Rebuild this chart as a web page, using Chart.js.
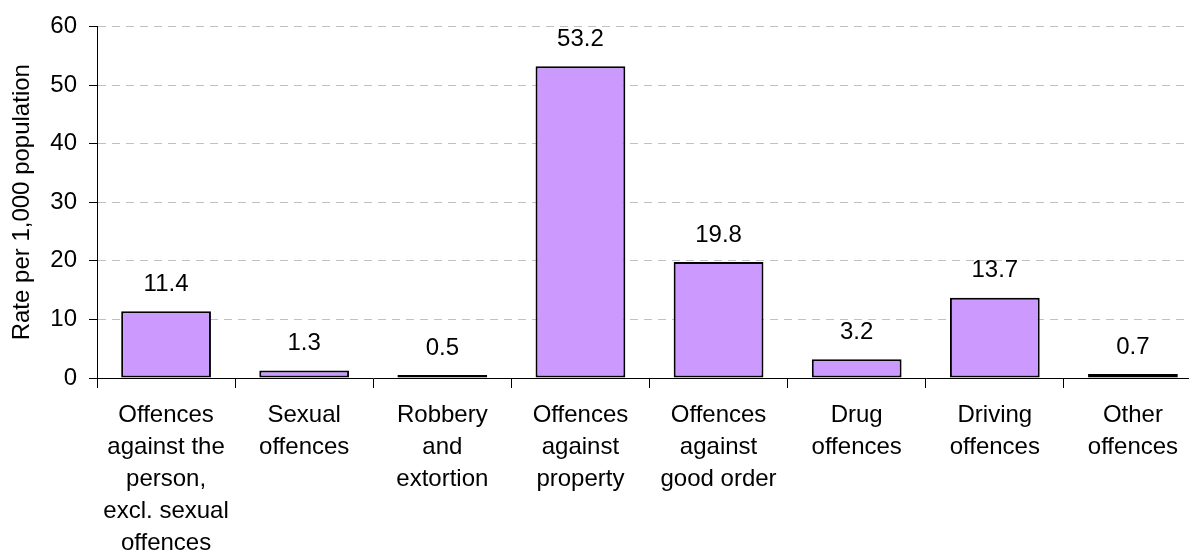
<!DOCTYPE html>
<html>
<head>
<meta charset="utf-8">
<script src="https://cdn.jsdelivr.net/npm/chart.js@4/dist/chart.umd.min.js"></script>
<style>
  html, body { margin: 0; padding: 0; background: #fff; overflow: hidden; }
  #wrap { position: relative; width: 1206px; height: 552px; }
</style>
</head>
<body>
<div id="wrap"><canvas id="chart"></canvas></div>
<script>
const categories = [
  ["Offences", "against the", "person,", "excl. sexual", "offences"],
  ["Sexual", "offences"],
  ["Robbery", "and", "extortion"],
  ["Offences", "against", "property"],
  ["Offences", "against", "good order"],
  ["Drug", "offences"],
  ["Driving", "offences"],
  ["Other", "offences"],
]
const rates = [11.4, 1.3, 0.5, 53.2, 19.8, 3.2, 13.7, 0.7]
const yTitle = "Rate per 1,000 population"

const FONT = "'Liberation Sans', Arial, sans-serif"

const valueLabels = {
  id: "valueLabels",
  afterDatasetsDraw(chart) {
    const ctx = chart.ctx
    const meta = chart.getDatasetMeta(0)
    ctx.save()
    ctx.font = "24px " + FONT
    ctx.fillStyle = "#000"
    ctx.textAlign = "center"
    ctx.textBaseline = "middle"
    meta.data.forEach((bar, i) => {
      ctx.fillText(rates[i].toFixed(1), bar.x, bar.y - 27)
    })
    ctx.restore()
  },
}

new Chart(document.getElementById("chart"), {
  type: "bar",
  data: {
    labels: categories,
    datasets: [
      {
        data: rates,
        backgroundColor: "#CC99FF",
        borderColor: "#000",
        borderWidth: 2,
        borderSkipped: false,
        barPercentage: 0.65,
        categoryPercentage: 1,
      },
    ],
  },
  options: {
    animation: false,
    responsive: true,
    maintainAspectRatio: false,
    layout: { padding: { top: 25, right: 4, left: 0, bottom: 0 } },
    plugins: {
      legend: { display: false },
      tooltip: { enabled: false },
    },
    scales: {
      x: {
        afterFit(scale) { scale.height = 174 },
        grid: {
          offset: true,
          drawOnChartArea: false,
          drawTicks: true,
          tickLength: 10,
          tickColor: "#000",
          tickWidth: 1,
        },
        border: { color: "#000", width: 1 },
        ticks: {
          color: "#000",
          font: { family: FONT, size: 24, lineHeight: 1.34 },
          padding: 11,
          maxRotation: 0,
          autoSkip: false,
        },
      },
      y: {
        min: 0,
        max: 60,
        afterFit(scale) { scale.width = 97 },
        grid: {
          color: "#c0c0c0",
          lineWidth: 1,
          drawTicks: true,
          tickLength: 8,
          tickColor: "#000",
        },
        border: { color: "#000", width: 1, dash: [8, 6] },
        ticks: {
          stepSize: 10,
          color: "#000",
          font: { family: FONT, size: 24 },
          padding: 12,
        },
        title: {
          display: true,
          text: yTitle,
          color: "#000",
          font: { family: FONT, size: 24 },
          padding: { top: 8, bottom: 0 },
        },
      },
    },
  },
  plugins: [valueLabels],
})
</script>
</body>
</html>
